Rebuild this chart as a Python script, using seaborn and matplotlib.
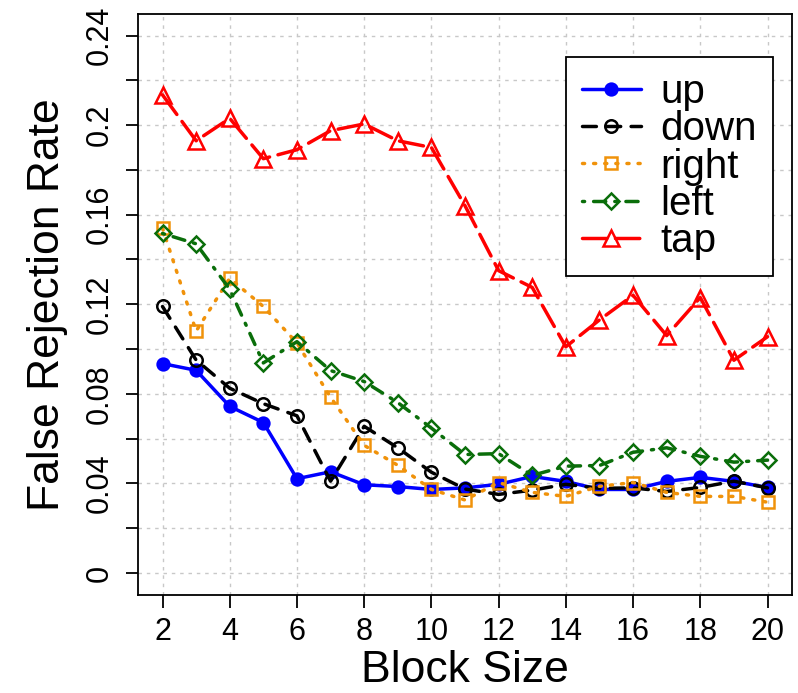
import matplotlib
matplotlib.use("Agg")
import matplotlib.pyplot as plt
from matplotlib.ticker import FixedLocator, FixedFormatter
import numpy as np
import pandas as pd
import seaborn as sns

# Block sizes evaluated
block_size = list(range(2, 21))

# False rejection rate per gesture
up = [0.0935, 0.0905, 0.0744, 0.0672, 0.0421, 0.0452, 0.0394, 0.0386, 0.0373, 0.0380,
      0.0396, 0.0431, 0.0409, 0.0373, 0.0373, 0.0409, 0.0427, 0.0409, 0.0382]
down = [0.1190, 0.0951, 0.0825, 0.0756, 0.0702, 0.0410, 0.0655, 0.0559, 0.0450, 0.0375,
        0.0351, 0.0370, 0.0396, 0.0378, 0.0380, 0.0364, 0.0382, 0.0410, 0.0380]
right = [0.1540, 0.1080, 0.1316, 0.1190, 0.1027, 0.0785, 0.0570, 0.0481, 0.0373, 0.0326,
         0.0404, 0.0360, 0.0342, 0.0387, 0.0404, 0.0360, 0.0342, 0.0342, 0.0316]
left = [0.1516, 0.1470, 0.1267, 0.0938, 0.1033, 0.0904, 0.0855, 0.0761, 0.0647, 0.0529,
        0.0533, 0.0436, 0.0477, 0.0480, 0.0539, 0.0559, 0.0521, 0.0495, 0.0504]
tap = [0.2135, 0.1930, 0.2030, 0.1850, 0.1890, 0.1975, 0.2005, 0.1930, 0.1900, 0.1640,
       0.1350, 0.1275, 0.1010, 0.1130, 0.1240, 0.1060, 0.1230, 0.0950, 0.1055]

series_names = ["up", "down", "right", "left", "tap"]
series_values = [up, down, right, left, tap]

y_ticks = [round(0.02 * i, 2) for i in range(13)]
y_tick_labels = ["0", "", "0.04", "", "0.08", "", "0.12", "", "0.16", "", "0.2", "", "0.24"]
x_ticks = list(range(2, 21, 2))

styles = {
    "up":    dict(color="#0000FF", marker="o", ms=8.5, mfc="#0000FF", dashes=None),
    "down":  dict(color="#000000", marker="o", ms=9, mfc="none", dashes=(4, 3)),
    "right": dict(color="#F0920A", marker="s", ms=8, mfc="none", dashes=(0.6, 2.6)),
    "left":  dict(color="#0A6E0A", marker="D", ms=8, mfc="none", dashes=(0.6, 2.6, 3.5, 2.6)),
    "tap":   dict(color="#FF0000", marker="^", ms=12, mfc="none", dashes=(7, 2.5)),
}

sns.set_theme(style="white")
plt.rcParams["font.family"] = ["Liberation Sans", "DejaVu Sans"]
plt.rcParams["text.color"] = "black"
plt.rcParams["axes.labelcolor"] = "black"
plt.rcParams["xtick.color"] = "black"
plt.rcParams["ytick.color"] = "black"

fig = plt.figure(figsize=(7.98, 6.93), dpi=100)
W, H = 798, 693
ax = fig.add_axes([138.3 / W, 1 - 594.5 / H, (791.7 - 138.3) / W, (594.5 - 14) / H])
ax.set_facecolor("white")

# dotted reference grid
for yv in y_ticks:
    ax.axhline(yv, color="#C8C8C8", lw=1.0, ls=(0, (2.5, 3.5)), zorder=0)
for xv in x_ticks:
    ax.axvline(xv, color="#C8C8C8", lw=1.0, ls=(0, (2.5, 3.5)), zorder=0)

handles = []
for name, vals in zip(series_names, series_values):
    st = styles[name]
    df = pd.DataFrame({"Block Size": block_size, "FRR": vals})
    kw = dict(color=st["color"], marker=st["marker"], markersize=st["ms"],
              markerfacecolor=st["mfc"], markeredgecolor=st["color"],
              markeredgewidth=1.8, linewidth=2.5, legend=False, ax=ax,
              solid_capstyle="round", dash_capstyle="round")
    sns.lineplot(data=df, x="Block Size", y="FRR", **kw)
    line = ax.get_lines()[-1]
    if st["dashes"] is not None:
        line.set_dashes(st["dashes"])
    line.set_label(name)
    handles.append(line)

ax.set_xlim(1.28, 20.72)
ax.set_ylim(-0.0096, 0.2496)

ax.xaxis.set_major_locator(FixedLocator(x_ticks))
ax.yaxis.set_major_locator(FixedLocator(y_ticks))
ax.yaxis.set_major_formatter(FixedFormatter(y_tick_labels))

ax.tick_params(axis="both", which="major", direction="out", length=9, width=1.3,
               color="black", labelcolor="black", labelsize=22, bottom=True, left=True)
ax.tick_params(axis="x", pad=7)
ax.tick_params(axis="y", pad=8)
for lab in ax.get_yticklabels():
    lab.set_rotation(90)
    lab.set_va("center")

for sp in ax.spines.values():
    sp.set_visible(True)
    sp.set_color("black")
    sp.set_linewidth(1.3)

ax.set_xlabel("Block Size", fontsize=32, labelpad=2, color="black")
ax.set_ylabel("False Rejection Rate", fontsize=32, labelpad=12, color="black")

leg = ax.legend(handles=handles, loc="upper left",
                bbox_to_anchor=((566 - 138.3) / 653.4, (594.5 - 57) / 580.5),
                borderaxespad=0, fontsize=29, handlelength=1.45, handletextpad=0.5,
                labelspacing=-0.02, borderpad=0.4, frameon=True, fancybox=False,
                edgecolor="black", framealpha=1)
leg.get_frame().set_linewidth(1.3)
for t in leg.get_texts():
    t.set_color("black")

fig.savefig("out.png", dpi=100, facecolor="white")
